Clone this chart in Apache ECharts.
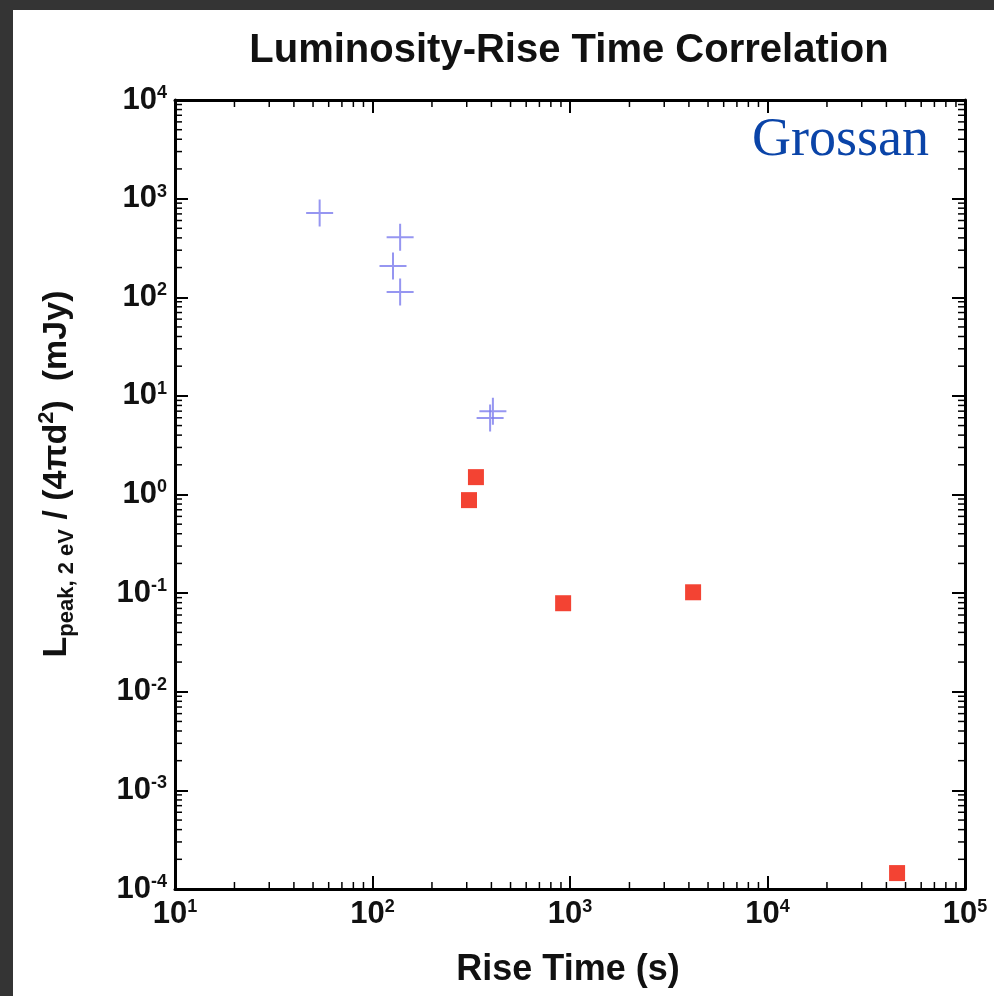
<!DOCTYPE html>
<html>
<head>
<meta charset="utf-8">
<script src="https://cdn.jsdelivr.net/npm/echarts@6/dist/echarts.min.js"></script>
<style>
  html, body { margin: 0; padding: 0; width: 994px; height: 996px; overflow: hidden; background: #343434; }
  #paper { position: absolute; left: 13px; top: 10px; right: 0; bottom: 0; background: #ffffff; }
  #chart { position: absolute; left: 0; top: 0; width: 994px; height: 996px; }
</style>
</head>
<body>
<div id="paper"></div>
<div id="chart"></div>
<script>
// ---- data ----
const titleText = 'Luminosity-Rise Time Correlation';
const xAxisTitle = 'Rise Time (s)';
const annotation = 'Grossan';

// blue "+" markers
const crossX = [54, 138, 127, 138, 407, 394];
const crossY = [714, 407, 207, 113, 7.0, 5.96];

// red squares
const squareX = [334, 308, 923, 4200, 45300];
const squareY = [1.50, 0.877, 0.079, 0.102, 0.000145];

// axis ranges (decades)
const xMin = 10, xMax = 100000;
const yMin = 0.0001, yMax = 10000;
const xDecadeExps = [1, 2, 3, 4];
const yDecadeExps = [-4, -3, -2, -1, 0, 1, 2, 3];
const minorMultipliers = [2, 3, 4, 5, 6, 7, 8, 9];

// ---- build ----
const FONT = '"Liberation Sans", Arial, Helvetica, sans-serif';
const crossData = crossX.map((x, i) => [x, crossY[i]]);
const squareData = squareX.map((x, i) => [x, squareY[i]]);

const minorData = [];
xDecadeExps.forEach(e => minorMultipliers.forEach(m => minorData.push([m * Math.pow(10, e), yMin, 0])));
yDecadeExps.forEach(e => minorMultipliers.forEach(m => minorData.push([xMin, m * Math.pow(10, e), 1])));

function expLabel(v) {
  const e = Math.round(Math.log10(v));
  return '{b|10}{s|' + e + '}';
}
const labelRich = {
  b: { fontSize: 31, fontWeight: 'bold', fontFamily: FONT, color: '#111', lineHeight: 34 },
  s: { fontSize: 18, fontWeight: 'bold', fontFamily: FONT, color: '#111', lineHeight: 18, verticalAlign: 'top', padding: [1, 0, 0, 0] }
};

const axisLineStyle = { color: '#000', width: 3 };
const majorTick = { show: true, inside: true, length: 13, lineStyle: { color: '#000', width: 2 } };

const chart = echarts.init(document.getElementById('chart'), null, { renderer: 'canvas' });
chart.setOption({
  backgroundColor: 'transparent',
  animation: false,
  grid: { left: 175, top: 100, right: 29, bottom: 107, containLabel: false },
  xAxis: [
    {
      type: 'log', logBase: 10, min: xMin, max: xMax, splitNumber: 4,
      axisLine: { show: true, lineStyle: axisLineStyle },
      axisTick: majorTick,
      splitLine: { show: false },
      axisLabel: { show: true, margin: 8, formatter: expLabel, rich: labelRich, showMinLabel: true, showMaxLabel: true }
    },
    {
      type: 'log', logBase: 10, min: xMin, max: xMax, splitNumber: 4, position: 'top',
      axisLine: { show: true, lineStyle: axisLineStyle },
      axisTick: majorTick,
      splitLine: { show: false },
      axisLabel: { show: false }
    }
  ],
  yAxis: [
    {
      type: 'log', logBase: 10, min: yMin, max: yMax, splitNumber: 8,
      axisLine: { show: true, lineStyle: axisLineStyle },
      axisTick: majorTick,
      splitLine: { show: false },
      axisLabel: { show: true, margin: 8, formatter: expLabel, rich: labelRich, showMinLabel: true, showMaxLabel: true }
    },
    {
      type: 'log', logBase: 10, min: yMin, max: yMax, splitNumber: 8, position: 'right',
      axisLine: { show: true, lineStyle: axisLineStyle },
      axisTick: majorTick,
      splitLine: { show: false },
      axisLabel: { show: false }
    }
  ],
  series: [
    {
      type: 'custom',
      xAxisIndex: 0, yAxisIndex: 0,
      silent: true,
      clip: false,
      data: minorData,
      renderItem: function (params, api) {
        const v0 = api.value(0), v1 = api.value(1), kind = api.value(2);
        const len = 7;
        const st = { stroke: '#000', lineWidth: 1.5 };
        if (kind === 0) {
          const b = api.coord([v0, yMin]);
          const t = api.coord([v0, yMax]);
          return { type: 'group', children: [
            { type: 'line', shape: { x1: b[0], y1: b[1], x2: b[0], y2: b[1] - len }, style: st },
            { type: 'line', shape: { x1: t[0], y1: t[1], x2: t[0], y2: t[1] + len }, style: st }
          ]};
        } else {
          const l = api.coord([xMin, v1]);
          const r = api.coord([xMax, v1]);
          return { type: 'group', children: [
            { type: 'line', shape: { x1: l[0], y1: l[1], x2: l[0] + len, y2: l[1] }, style: st },
            { type: 'line', shape: { x1: r[0], y1: r[1], x2: r[0] - len, y2: r[1] }, style: st }
          ]};
        }
      }
    },
    {
      type: 'scatter',
      name: 'cross',
      data: crossData,
      symbol: 'path://M13,0L13,26M0,13L26,13',
      symbolSize: 27,
      itemStyle: { color: 'transparent', borderColor: '#7c7cee', borderWidth: 2 }
    },
    {
      type: 'scatter',
      name: 'square',
      data: squareData,
      symbol: 'rect',
      symbolSize: 16,
      itemStyle: { color: '#f01400' }
    }
  ],
  graphic: { elements: [
    {
      type: 'text', x: 569, y: 51,
      style: { text: titleText, font: 'bold 40px ' + FONT, fill: '#111', align: 'center', verticalAlign: 'middle' }
    },
    {
      type: 'text', x: 568, y: 970,
      style: { text: xAxisTitle, font: 'bold 36px ' + FONT, fill: '#111', align: 'center', verticalAlign: 'middle' }
    },
    {
      type: 'text', x: 752, y: 141,
      style: { text: annotation, font: '54px "Liberation Serif", "Times New Roman", serif', fill: '#0a44a8', align: 'left', verticalAlign: 'middle' }
    },
    {
      type: 'text', x: 57, y: 474, rotation: Math.PI / 2,
      style: {
        text: '{m|L}{sub|peak, 2 eV}{m| / (4\u03C0d}{sup|2}{m|)  (mJy)}',
        align: 'center', verticalAlign: 'middle',
        rich: {
          m: { fontSize: 34, fontWeight: 'bold', fontFamily: FONT, fill: '#111', color: '#111', lineHeight: 42 },
          sub: { fontSize: 22, fontWeight: 'bold', fontFamily: FONT, fill: '#111', color: '#111', lineHeight: 22, verticalAlign: 'bottom' },
          sup: { fontSize: 22, fontWeight: 'bold', fontFamily: FONT, fill: '#111', color: '#111', lineHeight: 22, verticalAlign: 'top' }
        }
      }
    }
  ]}
});
</script>
</body>
</html>
